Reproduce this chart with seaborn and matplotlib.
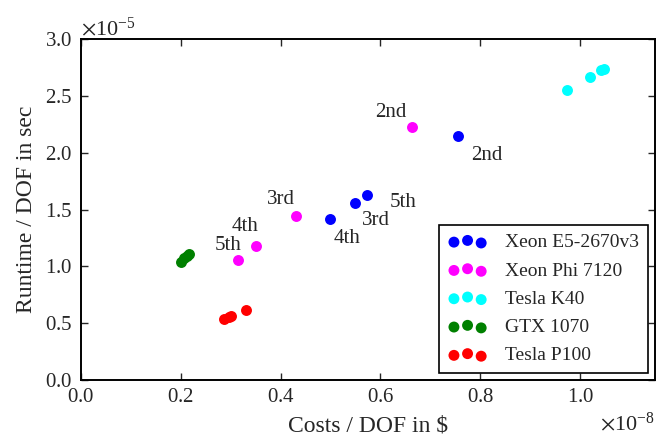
import matplotlib
matplotlib.use('Agg')
import matplotlib.pyplot as plt
import seaborn as sns
import pandas as pd

# ---- data (x in units of 1e-8 $, y in units of 1e-5 s) ----
series_names = ['Xeon E5-2670v3', 'Xeon Phi 7120', 'Tesla K40', 'GTX 1070', 'Tesla P100']

xeon_cost = [0.755, 0.549, 0.499, 0.572]
xeon_runtime = [2.152, 1.561, 1.414, 1.626]
xeon_labels = ['2nd', '3rd', '4th', '5th']

phi_cost = [0.663, 0.431, 0.351, 0.314]
phi_runtime = [2.224, 1.446, 1.177, 1.054]
phi_labels = ['2nd', '3rd', '4th', '5th']

k40_cost = [0.974, 1.019, 1.041, 1.047]
k40_runtime = [2.550, 2.667, 2.726, 2.740]

gtx_cost = [0.200, 0.207, 0.213, 0.216]
gtx_runtime = [1.041, 1.070, 1.095, 1.106]

p100_cost = [0.286, 0.297, 0.301, 0.330]
p100_runtime = [0.537, 0.553, 0.566, 0.616]

x_ticks = [0.0, 0.2, 0.4, 0.6, 0.8, 1.0]
y_ticks = [0.0, 0.5, 1.0, 1.5, 2.0, 2.5, 3.0]

# ---- style ----
colors = ['blue', 'magenta', 'cyan', 'green', 'red']
xeon_offsets = [(21, -14), (15, -13), (12, -14), (26, -5)]
phi_offsets = [(-15, 11), (-11, 12), (-8, 14), (-7, 11)]

sns.set_style('ticks')
plt.rcParams['font.family'] = ['Liberation Serif', 'DejaVu Serif']
plt.rcParams['mathtext.fontset'] = 'stix'
plt.rcParams['axes.formatter.use_mathtext'] = True
plt.rcParams['xtick.direction'] = 'in'
plt.rcParams['ytick.direction'] = 'in'

fig = plt.figure(figsize=(6.57, 4.43), dpi=100)
ax = fig.add_axes([0.1233, 0.1422, 0.8737, 0.7691])

all_x = [xeon_cost, phi_cost, k40_cost, gtx_cost, p100_cost]
all_y = [xeon_runtime, phi_runtime, k40_runtime, gtx_runtime, p100_runtime]

for name, xs, ys, c in zip(series_names, all_x, all_y, colors):
    df = pd.DataFrame({'cost': [v * 1e-8 for v in xs], 'runtime': [v * 1e-5 for v in ys]})
    sns.scatterplot(data=df, x='cost', y='runtime', color=c, s=62, linewidth=0,
                    label=name, ax=ax, zorder=3)

for xs, ys, labs, offs in [(xeon_cost, xeon_runtime, xeon_labels, xeon_offsets),
                           (phi_cost, phi_runtime, phi_labels, phi_offsets)]:
    for xv, yv, lab, off in zip(xs, ys, labs, offs):
        ax.annotate(lab, (xv * 1e-8, yv * 1e-5), xytext=off, textcoords='offset points',
                    ha='center', va='center', fontsize=15)

ax.set_xlim(0, 1.15e-8)
ax.set_ylim(0, 3.0e-5)
ax.set_xticks([t * 1e-8 for t in x_ticks])
ax.set_yticks([t * 1e-5 for t in y_ticks])
ax.ticklabel_format(axis='both', style='sci', scilimits=(0, 0), useMathText=True)
ax.tick_params(which='both', direction='in', length=5, width=1, labelsize=15,
               top=True, right=True, pad=6)
ax.xaxis.get_offset_text().set_fontsize(16)
ax.yaxis.get_offset_text().set_fontsize(16)
for sp in ax.spines.values():
    sp.set_linewidth(1.4)
    sp.set_color('black')

ax.set_xlabel('Costs / DOF in \\$', fontsize=17, labelpad=6)
ax.set_ylabel('Runtime / DOF in sec', fontsize=17, labelpad=6)

leg = ax.legend(loc='lower right', scatterpoints=3, scatteryoffsets=[0.375, 0.5, 0.3125],
                fontsize=14, frameon=True, fancybox=False, framealpha=1,
                edgecolor='black', borderaxespad=0.35, labelspacing=0.55,
                handletextpad=0.95, handlelength=2.0, borderpad=0.45)
leg.get_frame().set_linewidth(1.2)

fig.savefig('out.png', dpi=100)
